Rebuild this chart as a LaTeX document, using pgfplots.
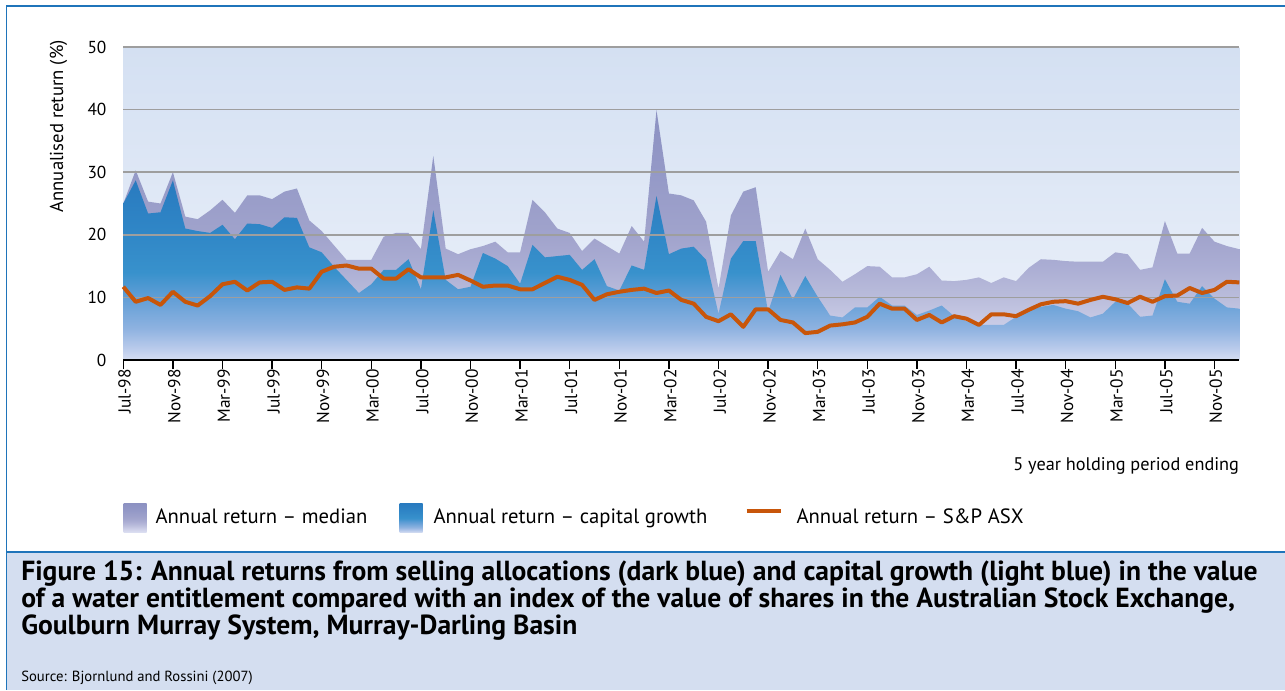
\documentclass[border=0pt]{standalone}
\usepackage{pgfplots}
\pgfplotsset{compat=1.18}
\usepackage{pgfplotstable}
\usepackage{fontspec}
\setmainfont{PT Sans}

\definecolor{frameblue}{RGB}{31,116,186}
\definecolor{capbg}{RGB}{212,222,240}
\definecolor{spor}{RGB}{200,86,10}
\definecolor{gridc}{RGB}{158,158,158}
\definecolor{bgtop}{RGB}{212,224,242}
\definecolor{bgbot}{RGB}{236,241,250}

\pgfdeclareverticalshading{medshade}{100bp}{rgb(0bp)=(0.87,0.88,0.95); rgb(25bp)=(0.87,0.88,0.95); rgb(31.3bp)=(0.80,0.81,0.91); rgb(37.5bp)=(0.73,0.74,0.86); rgb(43.8bp)=(0.67,0.68,0.83); rgb(50bp)=(0.63,0.64,0.80); rgb(62.6bp)=(0.58,0.60,0.78); rgb(75bp)=(0.55,0.57,0.76); rgb(100bp)=(0.55,0.57,0.76)}
\pgfdeclareverticalshading{capshade}{100bp}{rgb(0bp)=(0.84,0.87,0.95); rgb(25bp)=(0.84,0.87,0.95); rgb(28.5bp)=(0.72,0.79,0.92); rgb(33.7bp)=(0.56,0.70,0.88); rgb(42.4bp)=(0.38,0.62,0.84); rgb(49.4bp)=(0.22,0.57,0.80); rgb(59.8bp)=(0.19,0.53,0.78); rgb(75bp)=(0.16,0.48,0.75); rgb(100bp)=(0.16,0.48,0.75)}

\pgfplotsset{
  legboxA/.style={legend image code/.code={\path[##1] (0pt,-11.8pt) rectangle (17.25pt,9.95pt); \path[draw=none] (0pt,0pt) -- (24pt,0pt);}},
  legboxB/.style={legend image code/.code={\path[##1] (0pt,-11.8pt) rectangle (17.25pt,9.95pt); \path[draw=none] (0pt,0pt) -- (25.5pt,0pt);}},
  leglineC/.style={legend image code/.code={\path[draw=spor, line width=3pt] (0pt,4.5pt) -- (26pt,4.5pt); \path[draw=none] (0pt,4.5pt) -- (37.5pt,4.5pt);}},
}

\pgfplotstableread{
m med cap sp
0 25.0 25.0 11.7
1 30.3 28.7 9.3
2 25.3 23.4 9.9
3 25.0 23.6 8.8
4 30.0 28.7 10.9
5 22.9 21.0 9.3
6 22.5 20.6 8.7
7 23.9 20.3 10.2
8 25.6 21.6 12.1
9 23.5 19.3 12.5
10 26.3 21.8 11.1
11 26.3 21.7 12.4
12 25.7 21.1 12.5
13 26.9 22.8 11.2
14 27.4 22.7 11.6
15 22.3 18.0 11.4
16 20.6 17.2 14.1
17 18.3 14.9 14.9
18 16.0 12.8 15.1
19 16.0 10.7 14.6
20 16.0 12.1 14.6
21 19.7 14.4 13.0
22 20.3 14.4 13.0
23 20.3 16.1 14.5
24 17.7 11.3 13.2
25 32.6 23.9 13.2
26 17.8 12.8 13.2
27 16.9 11.3 13.6
28 17.7 11.7 12.7
29 18.2 17.1 11.7
30 18.9 16.2 11.9
31 17.2 15.0 11.9
32 17.2 12.2 11.3
33 25.6 18.4 11.3
34 23.6 16.4 12.3
35 21.0 16.6 13.3
36 20.3 16.8 12.8
37 17.4 14.4 12.0
38 19.4 16.1 9.6
39 18.2 11.8 10.5
40 17.0 11.1 10.9
41 21.4 15.1 11.2
42 18.9 14.4 11.4
43 39.9 26.2 10.7
44 26.6 16.9 11.1
45 26.3 17.8 9.6
46 25.5 18.1 9.0
47 22.1 16.0 6.9
48 11.4 7.4 6.2
49 23.1 16.2 7.3
50 26.9 19.0 5.3
51 27.6 19.0 8.1
52 14.1 7.7 8.1
53 17.4 13.6 6.4
54 16.1 9.7 6.0
55 21.0 13.4 4.3
56 16.1 10.1 4.5
57 14.4 7.1 5.5
58 12.5 6.8 5.7
59 13.7 8.4 6.0
60 15.0 8.4 6.9
61 14.9 10.1 9.0
62 13.2 8.7 8.2
63 13.2 8.7 8.2
64 13.7 7.2 6.4
65 14.9 7.9 7.2
66 12.7 8.7 6.0
67 12.6 7.0 7.0
68 12.8 6.2 6.6
69 13.2 5.6 5.6
70 12.3 5.6 7.3
71 13.2 5.6 7.3
72 12.6 6.9 7.0
73 14.7 8.0 8.0
74 16.1 8.5 8.9
75 16.0 8.8 9.3
76 15.8 8.2 9.4
77 15.7 7.8 9.0
78 15.7 6.8 9.6
79 15.7 7.4 10.1
80 17.2 9.3 9.7
81 16.9 9.0 9.1
82 14.4 6.9 10.1
83 14.8 7.1 9.3
84 22.2 12.9 10.2
85 17.0 9.3 10.3
86 17.0 9.0 11.5
87 21.1 11.8 10.7
88 18.9 9.8 11.2
89 18.2 8.4 12.5
90 17.7 8.2 12.4
}\datatable

\begin{document}
\begin{tikzpicture}
\begin{scope}[x=0.75pt,y=-0.75pt]
\path[use as bounding box] (0,0) rectangle (1285,690);
\fill[capbg] (6.5,552.3) rectangle (1285,690);
\draw[frameblue, line width=1.4pt] (1285,5.7) -- (6.5,5.7) -- (6.5,690);
\draw[frameblue, line width=1.4pt] (6.5,552.3) -- (1285,552.3);
\node[anchor=base west, inner sep=0pt, font=\bfseries\fontsize{20.7}{22}\selectfont] at (21,580.5) {Figure 15: Annual returns from selling allocations (dark blue) and capital growth (light blue) in the value};
\node[anchor=base west, inner sep=0pt, font=\bfseries\fontsize{20.7}{22}\selectfont] at (21,607.5) {of a water entitlement compared with an index of the value of shares in the Australian Stock Exchange,};
\node[anchor=base west, inner sep=0pt, font=\bfseries\fontsize{20.7}{22}\selectfont] at (21,634.5) {Goulburn Murray System, Murray-Darling Basin};
\node[anchor=base west, inner sep=0pt, font=\fontsize{11}{13}\selectfont] at (21,681.5) {Source: Bjornlund and Rossini (2007)};
\end{scope}
\begin{axis}[
  at={(92.475pt,-270pt)}, anchor=south west,
  scale only axis, width=837pt, height=234.75pt,
  xmin=0, xmax=90, ymin=0, ymax=50,
  set layers=axis on top,
  axis x line*=bottom, axis y line*=left,
  y axis line style={draw=none},
  x axis line style={line width=1.6pt, black},
  xtick={0,4,...,88},
  xticklabels={Jul-98,Nov-98,Mar-99,Jul-99,Nov-99,Mar-00,Jul-00,Nov-00,Mar-01,Jul-01,Nov-01,Mar-02,Jul-02,Nov-02,Mar-03,Jul-03,Nov-03,Mar-04,Jul-04,Nov-04,Mar-05,Jul-05,Nov-05},
  ytick={0,10,...,50},
  tick align=outside,
  major tick length=6.75pt,
  xtick style={line width=1.1pt, black},
  ytick style={draw=none},
  ymajorgrids, grid style={gridc, line width=1.1pt},
  axis background/.style={shade, top color=bgtop, bottom color=bgbot},
  ticklabel style={font=\fontsize{13}{15}\selectfont},
  /pgf/number format/assume math mode=true,
  xticklabel style={rotate=90, anchor=east, inner sep=0pt, yshift=-1pt},
  yticklabel style={inner sep=0pt, xshift=-5.7pt},
  xlabel={5 year holding period ending},
  xlabel style={at={(axis description cs:1,-0.3537)}, anchor=base east, inner sep=0pt, font=\fontsize{13.7}{16}\selectfont},
  ylabel={Annualised return (\%)},
  ylabel style={at={(axis description cs:-0.0581,1.0224)}, anchor=east, inner sep=0pt, font=\fontsize{14}{16}\selectfont},
  legend style={at={(axis description cs:0,-0.5048)}, anchor=west, draw=none, fill=none, inner sep=0pt, font=\fontsize{15.5}{18}\selectfont, nodes={inner sep=0pt}, /tikz/every odd column/.style={column sep=0pt}, /tikz/every even column/.style={column sep=0pt}},
  legend columns=3,
  legend cell align=left,
]
\addplot[draw=none, shading=medshade, legboxA] table[x=m,y=med]{\datatable} \closedcycle;
\addlegendentry{\makebox[183pt][l]{Annual return -- median}}
\addplot[draw=none, shading=capshade, legboxB] table[x=m,y=cap]{\datatable} \closedcycle;
\addlegendentry{\makebox[233.25pt][l]{Annual return -- capital growth}}
\addplot[spor, line width=3pt, line join=round, on layer=axis foreground, leglineC] table[x=m,y=sp]{\datatable};
\addlegendentry{Annual return -- S\&P ASX}
\end{axis}
\end{tikzpicture}
\end{document}
